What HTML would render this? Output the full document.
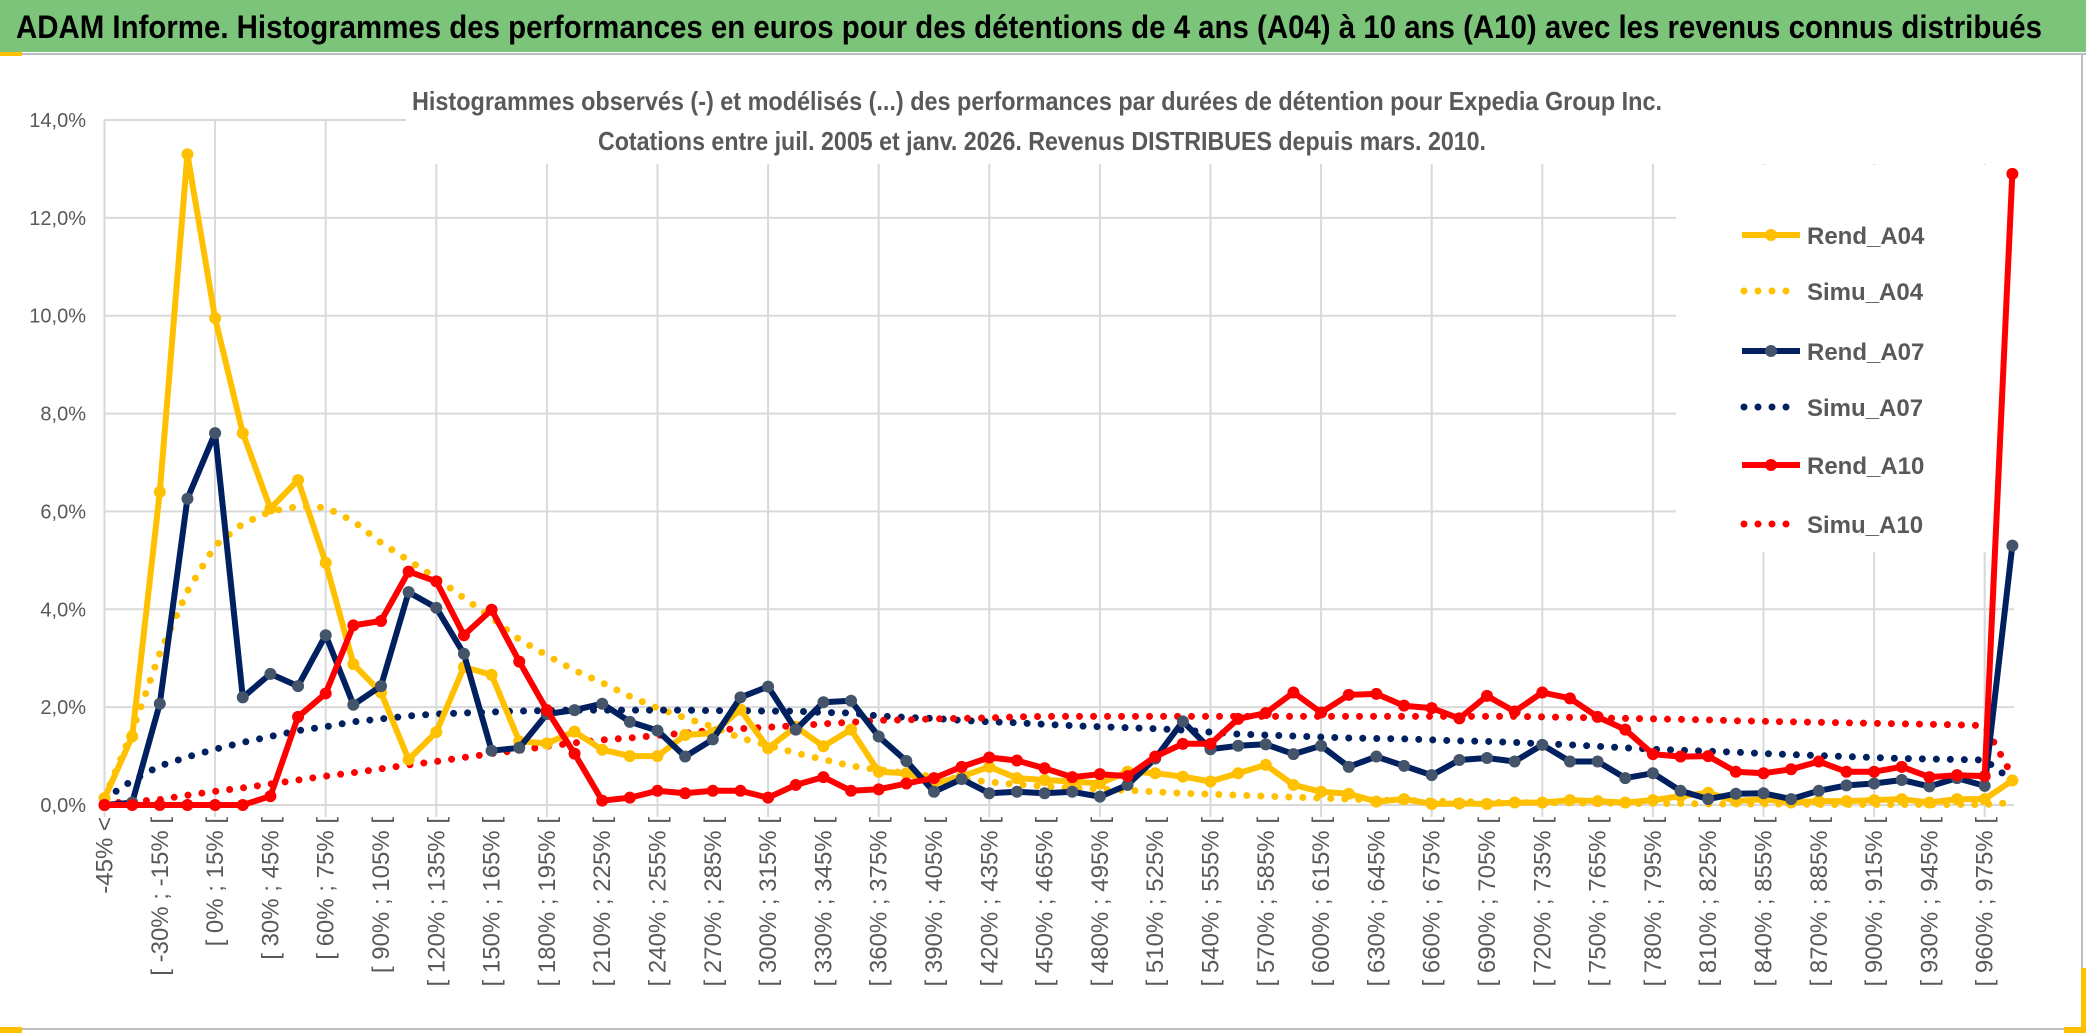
<!DOCTYPE html>
<html><head><meta charset="utf-8">
<style>
html,body{margin:0;padding:0;background:#fff;}
svg{display:block;font-family:"Liberation Sans",sans-serif;}
</style></head>
<body>
<svg id="chart" width="2086" height="1033" viewBox="0 0 2086 1033" xmlns="http://www.w3.org/2000/svg">
  <rect x="0" y="0" width="2086" height="1033" fill="#fff"/>
  <rect x="0" y="0" width="2086" height="52" fill="#7CC47A"/>
  <text x="16" y="38" font-size="32" font-weight="bold" fill="#000" textLength="2026" lengthAdjust="spacingAndGlyphs">ADAM Informe. Histogrammes des performances en euros pour des détentions de 4 ans (A04) à 10 ans (A10) avec les revenus connus distribués</text>
  <line x1="0" y1="54" x2="2086" y2="54" stroke="#bdbdbd" stroke-width="2"/>
  <rect x="0" y="52" width="22" height="4" fill="#FFC000"/>
  <line x1="0" y1="1029" x2="2086" y2="1029" stroke="#bdbdbd" stroke-width="2"/>
  <line x1="2082" y1="54" x2="2082" y2="1030" stroke="#bdbdbd" stroke-width="2"/>
  <rect x="0" y="1027" width="22" height="6" fill="#FFC000"/>
  <rect x="2064" y="1027" width="22" height="6" fill="#FFC000"/>
  <rect x="2081" y="968" width="5" height="62" fill="#FFC000"/>
  <g id="grid"></g>
  <rect x="406" y="60" width="1610" height="104" fill="#fff"/>
  <rect x="1676" y="165" width="340" height="387" fill="#fff"/>
  <text x="1037" y="110" font-size="26" font-weight="bold" fill="#595959" text-anchor="middle" textLength="1250" lengthAdjust="spacingAndGlyphs">Histogrammes observés (-) et modélisés (...) des performances par durées de détention pour Expedia Group Inc.</text>
  <text x="1042" y="150" font-size="26" font-weight="bold" fill="#595959" text-anchor="middle" textLength="888" lengthAdjust="spacingAndGlyphs">Cotations entre juil. 2005 et janv. 2026. Revenus DISTRIBUES depuis mars. 2010.</text>
  <g id="yaxis"></g>
  <g id="xaxis"></g>
  <g id="series"></g>
  <g id="legend"></g>
</svg>
<script>
const xLabels = ["-45% <","[ -30% ; -15% [","[ 0% ; 15% [","[ 30% ; 45% [","[ 60% ; 75% [","[ 90% ; 105% [","[ 120% ; 135% [","[ 150% ; 165% [","[ 180% ; 195% [","[ 210% ; 225% [","[ 240% ; 255% [","[ 270% ; 285% [","[ 300% ; 315% [","[ 330% ; 345% [","[ 360% ; 375% [","[ 390% ; 405% [","[ 420% ; 435% [","[ 450% ; 465% [","[ 480% ; 495% [","[ 510% ; 525% [","[ 540% ; 555% [","[ 570% ; 585% [","[ 600% ; 615% [","[ 630% ; 645% [","[ 660% ; 675% [","[ 690% ; 705% [","[ 720% ; 735% [","[ 750% ; 765% [","[ 780% ; 795% [","[ 810% ; 825% [","[ 840% ; 855% [","[ 870% ; 885% [","[ 900% ; 915% [","[ 930% ; 945% [","[ 960% ; 975% ["];
const yTicks = [0,2,4,6,8,10,12,14];
const yTickLabels = ["0,0%","2,0%","4,0%","6,0%","8,0%","10,0%","12,0%","14,0%"];
const rendA04 = [0.14,1.4,6.4,13.3,9.95,7.6,6.06,6.64,4.95,2.88,2.3,0.93,1.49,2.82,2.66,1.3,1.26,1.5,1.13,1.0,1.0,1.43,1.47,1.95,1.16,1.6,1.2,1.54,0.68,0.65,0.44,0.58,0.78,0.55,0.51,0.48,0.44,0.68,0.65,0.58,0.48,0.65,0.82,0.41,0.27,0.23,0.07,0.12,0.02,0.03,0.02,0.05,0.05,0.1,0.08,0.05,0.1,0.18,0.25,0.08,0.12,0.05,0.08,0.08,0.1,0.12,0.05,0.12,0.12,0.5];
const simuA04 = [0.15,1.5,3.1,4.37,5.3,5.75,6.0,6.1,6.08,5.8,5.36,5.0,4.64,4.23,3.83,3.38,3.06,2.75,2.5,2.22,1.98,1.78,1.6,1.37,1.22,1.06,0.93,0.8,0.72,0.65,0.58,0.53,0.47,0.42,0.38,0.35,0.32,0.3,0.27,0.24,0.22,0.2,0.18,0.16,0.14,0.12,0.1,0.09,0.08,0.07,0.06,0.05,0.05,0.04,0.04,0.03,0.03,0.03,0.02,0.02,0.02,0.02,0.01,0.01,0.01,0.01,0.01,0.01,0.01,0.05];
const rendA07 = [0,0.05,2.07,6.26,7.6,2.2,2.68,2.43,3.47,2.05,2.43,4.35,4.03,3.09,1.11,1.17,1.86,1.94,2.07,1.7,1.52,0.99,1.34,2.2,2.42,1.54,2.1,2.13,1.4,0.9,0.27,0.53,0.24,0.27,0.24,0.27,0.17,0.41,0.95,1.71,1.14,1.21,1.24,1.04,1.21,0.78,0.99,0.8,0.61,0.92,0.96,0.89,1.23,0.89,0.89,0.55,0.65,0.29,0.12,0.23,0.24,0.12,0.29,0.4,0.44,0.51,0.38,0.55,0.39,5.3];
const simuA07 = [0.12,0.5,0.8,0.98,1.14,1.28,1.4,1.52,1.6,1.7,1.76,1.82,1.86,1.88,1.9,1.92,1.93,1.94,1.94,1.94,1.94,1.94,1.93,1.93,1.92,1.92,1.89,1.88,1.82,1.79,1.77,1.73,1.7,1.68,1.65,1.62,1.6,1.58,1.56,1.53,1.49,1.45,1.43,1.41,1.39,1.37,1.36,1.35,1.33,1.31,1.3,1.28,1.25,1.23,1.2,1.17,1.14,1.12,1.1,1.08,1.05,1.03,1.01,0.99,0.97,0.95,0.94,0.93,0.92,0.5];
const rendA10 = [0,0,0,0,0,0,0.18,1.8,2.28,3.67,3.76,4.77,4.57,3.47,3.99,2.93,1.94,1.05,0.09,0.15,0.29,0.24,0.29,0.29,0.15,0.41,0.57,0.29,0.32,0.44,0.55,0.78,0.97,0.91,0.75,0.57,0.63,0.59,0.99,1.25,1.25,1.76,1.88,2.3,1.89,2.25,2.27,2.03,1.98,1.77,2.23,1.91,2.3,2.18,1.8,1.54,1.04,0.99,1.0,0.68,0.65,0.73,0.89,0.68,0.68,0.78,0.57,0.61,0.59,12.9];
const simuA10 = [0.03,0.07,0.11,0.2,0.28,0.35,0.43,0.51,0.59,0.66,0.74,0.82,0.89,0.97,1.05,1.12,1.2,1.27,1.33,1.37,1.42,1.47,1.53,1.56,1.59,1.62,1.66,1.69,1.73,1.74,1.76,1.77,1.78,1.8,1.81,1.81,1.81,1.81,1.81,1.81,1.81,1.81,1.81,1.81,1.81,1.81,1.81,1.81,1.81,1.81,1.81,1.81,1.8,1.79,1.78,1.77,1.76,1.75,1.74,1.72,1.71,1.7,1.69,1.68,1.67,1.66,1.65,1.64,1.62,0.6];

const NS = "http://www.w3.org/2000/svg";
const X0 = 104.5, DX = 27.65, Y0 = 805, YS = (805 - 120) / 14, XR = 2014;
const nCat = rendA04.length;
function xScale(i){ return X0 + i * DX; }
function yScale(v){ return Y0 - v * YS; }
function mk(tag, attrs, parent){
  const e = document.createElementNS(NS, tag);
  for (const k in attrs) e.setAttribute(k, attrs[k]);
  parent.appendChild(e);
  return e;
}
const grid = document.getElementById('grid');
yTicks.forEach(function(t){
  const l = mk('line', {x1: X0, x2: XR, y1: yScale(t), y2: yScale(t), stroke: '#d9d9d9', 'stroke-width': 2}, grid);
  
  
});
for (let i = 0; i < nCat; i += 4) {
  const l = mk('line', {x1: xScale(i), x2: xScale(i), y1: yScale(14), y2: Y0 + 12, stroke: '#d9d9d9', 'stroke-width': 2}, grid);
  
  
}
const yaxis = document.getElementById('yaxis');
yTicks.forEach(function(t, k){
  const tx = mk('text', {x: 86, y: yScale(t) + 7, 'font-size': 20, fill: '#595959', 'text-anchor': 'end'}, yaxis);
  tx.textContent = yTickLabels[k];
  
  
});
const xaxis = document.getElementById('xaxis');
xLabels.forEach(function(lab, k){
  const cx = xScale(k * 2) + 8;
  const tx = mk('text', {x: 0, y: 0, 'font-size': 24, fill: '#595959', 'text-anchor': 'end', transform: 'translate(' + cx + ',817) rotate(-90)'}, xaxis);
  tx.textContent = lab;
  
  
});
const series = document.getElementById('series');
function pts(arr){ return arr.map(function(v, i){ return xScale(i).toFixed(1) + ',' + yScale(v).toFixed(1); }).join(' '); }
function dotted(arr, color, name){
  const p = mk('polyline', {points: pts(arr), fill: 'none', stroke: color, 'stroke-width': 7, 'stroke-linecap': 'round', 'stroke-dasharray': '0 14'}, series);
  
  
}
function solid(arr, color, mcolor, name){
  const p = mk('polyline', {points: pts(arr), fill: 'none', stroke: color, 'stroke-width': 6, 'stroke-linejoin': 'round'}, series);
  
  
  arr.forEach(function(v, i){
    const c = mk('circle', {cx: xScale(i), cy: yScale(v), r: 6, fill: mcolor}, series);
    
    
  });
}
dotted(simuA04, '#FFC000', 'simu-a04-line');
dotted(simuA07, '#002060', 'simu-a07-line');
dotted(simuA10, '#FF0000', 'simu-a10-line');
solid(rendA04, '#FFC000', '#FFC000', 'rend-a04-line');
solid(rendA07, '#002060', '#44546A', 'rend-a07-line');
solid(rendA10, '#FF0000', '#FF0000', 'rend-a10-line');

const legend = document.getElementById('legend');
const legendNames = ["Rend_A04","Simu_A04","Rend_A07","Simu_A07","Rend_A10","Simu_A10"];
const legendColors = ['#FFC000','#FFC000','#002060','#002060','#FF0000','#FF0000'];
const legendMarker = ['#FFC000',null,'#44546A',null,'#FF0000',null];
const legendY = [235,291,351,407,465,524];
legendNames.forEach(function(nm, k){
  const y = legendY[k];
  const g = mk('g', {}, legend);
  
  
  if (legendMarker[k]) {
    mk('line', {x1: 1742, x2: 1800, y1: y, y2: y, stroke: legendColors[k], 'stroke-width': 6}, g);
    mk('circle', {cx: 1771, cy: y, r: 6, fill: legendMarker[k]}, g);
  } else {
    mk('line', {x1: 1744, x2: 1800, y1: y, y2: y, stroke: legendColors[k], 'stroke-width': 7, 'stroke-linecap': 'round', 'stroke-dasharray': '0 14'}, g);
  }
  const t = mk('text', {x: 1807, y: y + 9, 'font-size': 24, 'font-weight': 'bold', fill: '#595959'}, g);
  t.textContent = nm;
});
</script>
</body></html>
